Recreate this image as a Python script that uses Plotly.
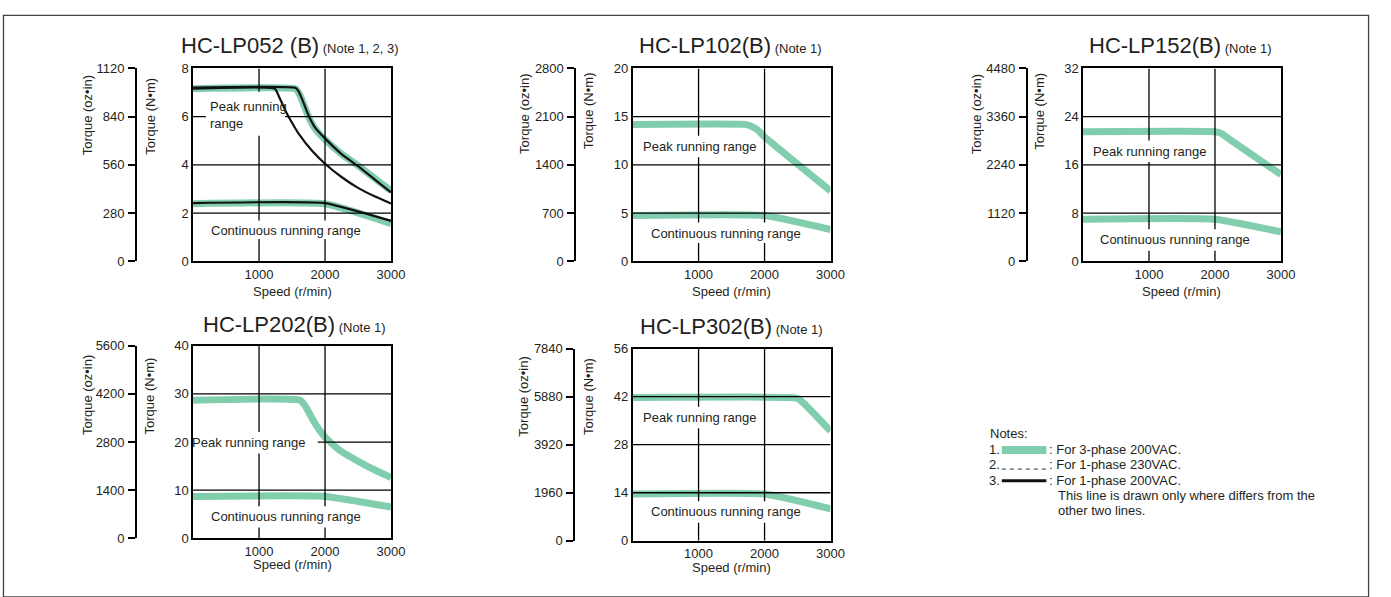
import plotly.graph_objects as go

W, H = 1391, 597
FONT = "Arial, Liberation Sans, sans-serif"
TXT = "#231f20"
GREEN = "#80ceae"

# ---------------- data ----------------
speed_ticks = [1000, 2000, 3000]
speed_tick_labels = ["1000", "2000", "3000"]

# HC-LP052 (B)
lp052_nm_ticks = [0, 2, 4, 6, 8]
lp052_oz_ticks = [0, 280, 560, 840, 1120]
lp052_peak_speed = [0, 1550, 1600, 1650, 1750, 1850, 2000, 2250, 2500, 2750, 3000]
lp052_peak_3ph = [7.16, 7.16, 7.0, 6.7, 6.0, 5.5, 5.05, 4.45, 3.97, 3.45, 2.93]
lp052_peak_1ph_upper = [7.2, 7.2, 7.05, 6.75, 6.05, 5.55, 5.1, 4.45, 3.95, 3.4, 2.86]
lp052_peak_1ph_speed = [0, 1240, 1300, 1400, 1500, 1600, 1800, 2000, 2250, 2500, 2750, 3000]
lp052_peak_1ph_lower = [7.16, 7.16, 6.85, 6.25, 5.75, 5.3, 4.6, 4.05, 3.5, 3.05, 2.7, 2.4]
lp052_cont_speed = [0, 2000, 3000]
lp052_cont_3ph = [2.39, 2.39, 1.57]
lp052_cont_1ph = [2.42, 2.42, 1.68]

# HC-LP102(B)
lp102_nm_ticks = [0, 5, 10, 15, 20]
lp102_oz_ticks = [0, 700, 1400, 2100, 2800]
lp102_peak_speed = [0, 1700, 1800, 1900, 2000, 3000]
lp102_peak_3ph = [14.2, 14.2, 14.0, 13.6, 12.9, 7.3]
lp102_cont_speed = [0, 2000, 3000]
lp102_cont_3ph = [4.75, 4.75, 3.3]

# HC-LP152(B)
lp152_nm_ticks = [0, 8, 16, 24, 32]
lp152_oz_ticks = [0, 1120, 2240, 3360, 4480]
lp152_peak_speed = [0, 2000, 2100, 2200, 3000]
lp152_peak_3ph = [21.5, 21.5, 21.2, 20.4, 14.4]
lp152_cont_speed = [0, 2000, 3000]
lp152_cont_3ph = [7.0, 7.0, 4.9]

# HC-LP202(B)
lp202_nm_ticks = [0, 10, 20, 30, 40]
lp202_oz_ticks = [0, 1400, 2800, 4200, 5600]
lp202_peak_speed = [0, 1620, 1700, 1800, 1900, 2000, 2200, 2500, 2750, 3000]
lp202_peak_3ph = [28.7, 28.7, 27.5, 25.0, 22.8, 21.0, 18.5, 16.0, 14.2, 12.6]
lp202_cont_speed = [0, 2000, 3000]
lp202_cont_3ph = [8.7, 8.7, 6.5]

# HC-LP302(B)
lp302_nm_ticks = [0, 14, 28, 42, 56]
lp302_oz_ticks = [0, 1960, 3920, 5880, 7840]
lp302_peak_speed = [0, 2400, 2500, 2600, 3000]
lp302_peak_3ph = [41.8, 41.8, 41.5, 40.0, 32.0]
lp302_cont_speed = [0, 2000, 3000]
lp302_cont_3ph = [13.6, 13.6, 9.3]

# ---------------- panels (geometry in pixels) ----------------
panels = [
    dict(title="HC-LP052 (B)", note="(Note 1, 2, 3)", nm=lp052_nm_ticks, oz=lp052_oz_ticks,
         green=[(lp052_peak_speed, lp052_peak_3ph), (lp052_cont_speed, lp052_cont_3ph)],
         black=[(lp052_peak_speed, lp052_peak_1ph_upper), (lp052_peak_1ph_speed, lp052_peak_1ph_lower),
                (lp052_cont_speed, lp052_cont_1ph)],
         box=(195, 395, 63, 261), ozx=137.3, tx=181, ty=40, speed_dy=31,
         ozlab=(88, 111), nmlab=(152, 112),
         peak=dict(text="Peak running<br>range", x=210, y=111, align="left", xanchor="left",
                   gap=(208, 87, 288, 132)),
         cont=dict(x=289, y=229, gap=(209, 219, 369, 238))),
    dict(title="HC-LP102(B)", note="(Note 1)", nm=lp102_nm_ticks, oz=lp102_oz_ticks,
         green=[(lp102_peak_speed, lp102_peak_3ph), (lp102_cont_speed, lp102_cont_3ph)], black=[],
         box=(639, 839, 63, 261), ozx=581, tx=643, ty=40, speed_dy=31,
         ozlab=(530, 110), nmlab=(594, 107),
         peak=dict(text="Peak running range", x=707, y=143, align="center", xanchor="center",
                   gap=(645, 132, 769, 154)),
         cont=dict(x=733, y=232, gap=(653, 221, 813, 242))),
    dict(title="HC-LP152(B)", note="(Note 1)", nm=lp152_nm_ticks, oz=lp152_oz_ticks,
         green=[(lp152_peak_speed, lp152_peak_3ph), (lp152_cont_speed, lp152_cont_3ph)], black=[],
         box=(1094, 1294, 63, 261), ozx=1037, tx=1098, ty=40, speed_dy=31,
         ozlab=(986, 110), nmlab=(1050, 107),
         peak=dict(text="Peak running range", x=1161, y=148, align="center", xanchor="center",
                   gap=(1099, 137, 1223, 159)),
         cont=dict(x=1187, y=239, gap=(1107, 228, 1268, 250))),
    dict(title="HC-LP202(B)", note="(Note 1)", nm=lp202_nm_ticks, oz=lp202_oz_ticks,
         green=[(lp202_peak_speed, lp202_peak_3ph), (lp202_cont_speed, lp202_cont_3ph)], black=[],
         box=(195, 395, 347.5, 545), ozx=137.3, tx=203, ty=326, speed_dy=27,
         ozlab=(88, 398), nmlab=(152, 399),
         peak=dict(text="Peak running range", x=251, y=447, align="center", xanchor="center",
                   gap=(190, 436, 321, 458)),
         cont=dict(x=289, y=523, gap=(209, 512, 369, 534))),
    dict(title="HC-LP302(B)", note="(Note 1)", nm=lp302_nm_ticks, oz=lp302_oz_ticks,
         green=[(lp302_peak_speed, lp302_peak_3ph), (lp302_cont_speed, lp302_cont_3ph)], black=[],
         box=(639, 839, 350.5, 547.5), ozx=580, tx=644, ty=328, speed_dy=27,
         ozlab=(529, 400), nmlab=(595, 400),
         peak=dict(text="Peak running range", x=707, y=421, align="center", xanchor="center",
                   gap=(645, 410, 768, 432)),
         cont=dict(x=733, y=518, gap=(653, 507, 813, 529))),
]


def px(x):
    return x / W


def py(y):
    return 1 - y / H


def ann(text, x, y, size=13, xanchor="center", yanchor="middle", **kw):
    d = dict(text=text, x=px(x), y=py(y), xref="paper", yref="paper",
             xanchor=xanchor, yanchor=yanchor, showarrow=False,
             font=dict(size=size, color=TXT, family=FONT))
    d.update(kw)
    return d


def split(lo, hi, gaps):
    """Split interval [lo, hi] removing the given (a, b) gaps."""
    segs = [(lo, hi)]
    for a, b in gaps:
        new = []
        for s, e in segs:
            if b <= s or a >= e:
                new.append((s, e))
            else:
                if a > s:
                    new.append((s, a))
                if b < e:
                    new.append((b, e))
        segs = new
    return segs


fig = go.Figure()
annotations = []
shapes = []
layout = {}

for i, p in enumerate(panels, start=1):
    sfx = "" if i == 1 else str(i)
    xa, ya, oza = f"x{sfx}", f"y{sfx}", f"y{i + 5}"
    x0, x1, y0, y1 = p["box"]
    ymax = p["nm"][-1]

    for xs, ys in p["green"]:
        fig.add_trace(go.Scatter(x=xs, y=ys, mode="lines", xaxis=xa, yaxis=ya,
                                 line=dict(color=GREEN, width=7, shape="spline", smoothing=0.4),
                                 showlegend=False, hoverinfo="skip"))
    for xs, ys in p["black"]:
        fig.add_trace(go.Scatter(x=xs, y=ys, mode="lines", xaxis=xa, yaxis=ya,
                                 line=dict(color="#111111", width=2.2, shape="spline", smoothing=0.4),
                                 showlegend=False, hoverinfo="skip"))
    fig.add_trace(go.Scatter(x=[None], y=[None], xaxis=xa, yaxis=oza, showlegend=False, hoverinfo="skip"))

    layout[f"xaxis{sfx}"] = dict(
        domain=[px(x0), px(x1)], range=[0, 3000], anchor=ya,
        tickvals=speed_ticks, ticktext=speed_tick_labels, ticks="",
        showgrid=False, zeroline=False, showline=True, mirror=True,
        linecolor="black", linewidth=1.5, ticklabelstandoff=0,
        tickfont=dict(size=13, color=TXT, family=FONT), fixedrange=True)
    layout[f"yaxis{sfx}"] = dict(
        domain=[py(y1), py(y0)], range=[0, ymax], anchor=xa,
        tickvals=p["nm"], ticks="", showgrid=False, zeroline=False,
        showline=True, mirror=True, linecolor="black", linewidth=1.5,
        ticklabelstandoff=0, tickfont=dict(size=13, color=TXT, family=FONT), fixedrange=True)
    layout[f"yaxis{i + 5}"] = dict(
        domain=[py(y1), py(y0)], range=[0, p["oz"][-1]], overlaying=ya,
        anchor="free", position=px(p["ozx"]), side="left",
        tickvals=p["oz"], ticks="outside", ticklen=7, tickwidth=1.5, tickcolor="black",
        showline=True, linecolor="black", linewidth=1.5, showgrid=False, zeroline=False,
        ticklabelstandoff=1, tickfont=dict(size=13, color=TXT, family=FONT), fixedrange=True)

    def dx(xp):
        return (xp - x0) / (x1 - x0) * 3000

    def dy(yp):
        return (y1 - yp) / (y1 - y0) * ymax

    gaps = [p["peak"]["gap"], p["cont"]["gap"]]
    for v in speed_ticks[:-1]:
        vp = x0 + v / 3000 * (x1 - x0)
        ygaps = [(dy(g[3]), dy(g[1])) for g in gaps if g[0] <= vp <= g[2]]
        for s, e in split(0, ymax, ygaps):
            shapes.append(dict(type="line", xref=xa, yref=ya, x0=v, x1=v, y0=s, y1=e,
                               line=dict(color="black", width=1.3), layer="above"))
    for v in p["nm"][1:-1]:
        vp = y1 - v / ymax * (y1 - y0)
        xgaps = [(dx(g[0]), dx(g[2])) for g in gaps if g[1] <= vp <= g[3]]
        for s, e in split(0, 3000, xgaps):
            shapes.append(dict(type="line", xref=xa, yref=ya, x0=s, x1=e, y0=v, y1=v,
                               line=dict(color="black", width=1.3), layer="above"))

    annotations.append(ann(f"{p['title']}<span style='font-size:13px'> {p['note']}</span>",
                           p["tx"], p["ty"], size=22, xanchor="left"))
    annotations.append(ann("Torque (oz•in)", p["ozlab"][0], p["ozlab"][1], textangle=-90))
    annotations.append(ann("Torque (N•m)", p["nmlab"][0], p["nmlab"][1], textangle=-90))
    annotations.append(ann("Speed (r/min)", (x0 + x1) / 2, y1 + p["speed_dy"]))
    pk = p["peak"]
    annotations.append(ann(pk["text"], pk["x"], pk["y"], xanchor=pk["xanchor"], align=pk["align"]))
    annotations.append(ann("Continuous running range", p["cont"]["x"], p["cont"]["y"]))

# ---------------- notes ----------------
note_rows = ["1.", "2.", "3."]
note_texts = [": For 3-phase 200VAC.", ": For 1-phase 230VAC.", ": For 1-phase 200VAC."]
note_extra = ["This line is drawn only where differs from the", "other two lines."]
row_y = [454, 469.5, 485.5]

annotations.append(ann("Notes:", 998, 437, xanchor="left"))
for n, t, yy in zip(note_rows, note_texts, row_y):
    annotations.append(ann(n, 997, yy, xanchor="left"))
    annotations.append(ann(t, 1058, yy, xanchor="left"))
for k, t in enumerate(note_extra):
    annotations.append(ann(t, 1067, 501 + 15.5 * k, xanchor="left"))

shapes.append(dict(type="line", xref="paper", yref="paper", x0=px(1012), x1=px(1057),
                   y0=py(454.5), y1=py(454.5), line=dict(color=GREEN, width=8)))
shapes.append(dict(type="line", xref="paper", yref="paper", x0=px(1012), x1=px(1057),
                   y0=py(474), y1=py(474), line=dict(color="#333333", width=1, dash="4px,4px")))
shapes.append(dict(type="line", xref="paper", yref="paper", x0=px(1012), x1=px(1057),
                   y0=py(486), y1=py(486), line=dict(color="#111111", width=3)))

# outer frame
shapes.append(dict(type="rect", xref="paper", yref="paper", x0=px(3.5), x1=px(1382.5),
                   y0=py(605), y1=py(8.5), line=dict(color="#444444", width=1.3), layer="below"))

fig.update_layout(**layout)
fig.update_layout(
    width=W, height=H, margin=dict(l=0, r=0, t=0, b=0),
    paper_bgcolor="white", plot_bgcolor="white",
    annotations=annotations, shapes=shapes, showlegend=False,
    font=dict(family=FONT, color=TXT),
)

fig.write_html("out.html", config={"displayModeBar": False},
               post_script="document.body.style.margin='0';document.body.style.overflow='hidden';")
